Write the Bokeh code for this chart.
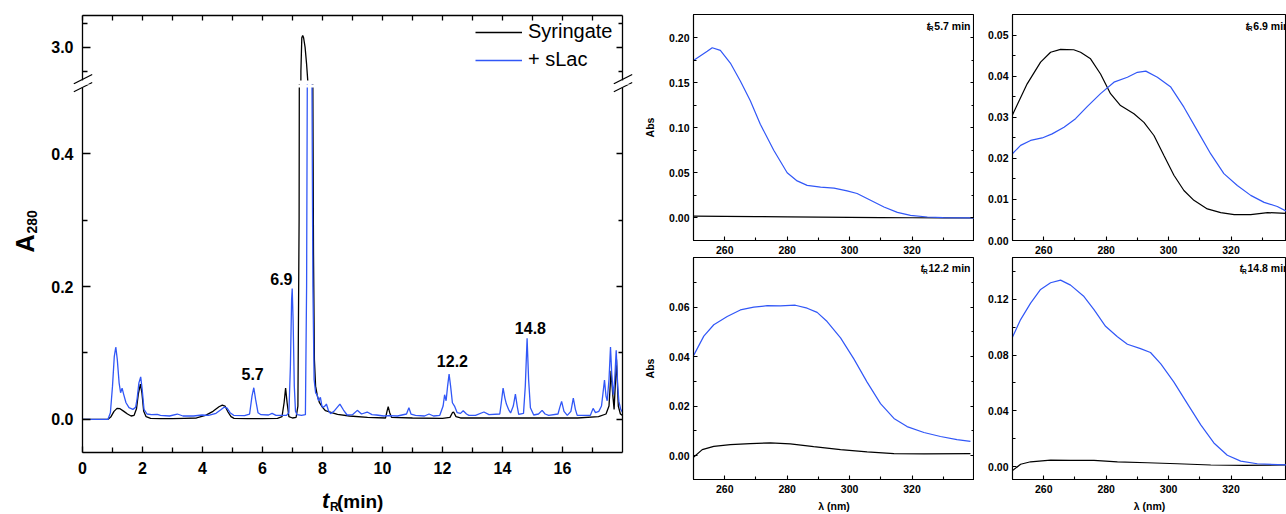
import math
from bokeh.plotting import figure
from bokeh.models import (LinearAxis, FixedTicker, Range1d, Label, Arrow, BoxAnnotation,
                          Legend, LegendItem, PrintfTickFormatter)
from bokeh.layouts import row, column
from bokeh.embed import file_html
from bokeh.resources import INLINE
from bokeh.core.properties import value

FONT = "Liberation Sans"
BLACK = "#000000"
BLUE = "#3157f7"

# ---------------- chromatogram: A280 against retention time ----------------
syr_t = [0.0, 0.85, 0.95, 1.05, 1.15, 1.25, 1.38, 1.5, 1.62, 1.72, 1.8, 1.86, 1.93,
         1.98, 2.04, 2.12, 2.27, 2.6, 3.0, 3.4, 3.8, 4.1, 4.35, 4.55, 4.66, 4.75,
         4.85, 4.95, 5.05, 5.5, 6.0, 6.5, 6.65, 6.72, 6.77, 6.82, 6.88, 7.0, 7.12,
         7.18, 7.22, 7.25, 7.28, 7.31, 7.34, 7.37, 7.42, 7.47, 7.51, 7.56, 7.62,
         7.67, 7.7, 7.73, 7.77, 7.83, 7.9, 8.0, 8.1, 8.25, 8.5, 8.9, 9.5, 10.1,
         10.15, 10.19, 10.24, 10.3, 11.0, 12.0, 12.25, 12.33, 12.37, 12.45, 12.6,
         13.5, 15.0, 16.5, 17.2, 17.45, 17.55, 17.62, 17.67, 17.72, 17.8, 17.86,
         17.93, 18.0]
syr_a = [0.0, 0.0, 0.004, 0.012, 0.0165, 0.016, 0.012, 0.008, 0.005, 0.006, 0.016,
         0.038, 0.053, 0.04, 0.012, 0.004, 0.0015, 0.001, 0.001, 0.0015, 0.002,
         0.006, 0.012, 0.019, 0.0215, 0.02, 0.011, 0.004, 0.0015, 0.001, 0.001,
         0.0015, 0.004, 0.025, 0.047, 0.025, 0.004, 0.002, 0.003, 0.02, 0.3, 1.2,
         2.9, 3.04, 3.05, 3.04, 3.0, 2.93, 2.86, 2.2, 1.2, 0.6, 0.25, 0.09, 0.05,
         0.035, 0.025, 0.018, 0.013, 0.011, 0.0075, 0.005, 0.003, 0.002, 0.012,
         0.019, 0.01, 0.003, 0.002, 0.0015, 0.003, 0.01, 0.011, 0.004, 0.002,
         0.002, 0.002, 0.002, 0.004, 0.008, 0.02, 0.073, 0.04, 0.015, 0.09, 0.02,
         0.008, 0.006]

slac_t = [0.0, 0.85, 0.93, 1.0, 1.06, 1.11, 1.16, 1.22, 1.27, 1.32, 1.37, 1.45, 1.55,
          1.68, 1.77, 1.82, 1.88, 1.94, 1.99, 2.05, 2.15, 2.3, 2.49, 2.6, 2.9, 3.16,
          3.35, 3.7, 3.99, 4.2, 4.45, 4.6, 4.73, 4.82, 4.92, 5.04, 5.4, 5.57, 5.65,
          5.71, 5.77, 5.85, 5.95, 6.2, 6.32, 6.45, 6.8, 6.88, 6.93, 6.97, 6.99, 7.02,
          7.06, 7.1, 7.15, 7.3, 7.43, 7.47, 7.5, 7.55, 7.6, 7.64, 7.68, 7.72, 7.77,
          7.82, 7.87, 7.93, 7.98, 8.02, 8.08, 8.13, 8.2, 8.27, 8.4, 8.58, 8.7, 8.82,
          9.0, 9.16, 9.3, 9.49, 9.65, 9.8, 10.04, 10.2, 10.5, 10.8, 10.88, 10.95,
          11.1, 11.4, 11.55, 11.7, 11.91, 12.02, 12.07, 12.12, 12.17, 12.22, 12.27,
          12.33, 12.4, 12.49, 12.6, 12.69, 12.8, 12.88, 13.1, 13.38, 13.55, 13.91,
          13.96, 14.02, 14.08, 14.13, 14.2, 14.27, 14.36, 14.43, 14.49, 14.54, 14.7,
          14.76, 14.82, 14.87, 14.93, 15.04, 15.2, 15.32, 15.42, 15.54, 15.85, 15.91,
          15.97, 16.05, 16.16, 16.28, 16.36, 16.43, 16.49, 16.93, 17.02, 17.1, 17.21,
          17.3, 17.4, 17.45, 17.49, 17.55, 17.6, 17.65, 17.69, 17.74, 17.79, 17.84,
          17.88, 17.94, 18.0]
slac_a = [0.0, 0.0, 0.01, 0.05, 0.095, 0.109, 0.09, 0.055, 0.04, 0.047, 0.038, 0.025,
          0.0175, 0.015, 0.018, 0.031, 0.055, 0.064, 0.045, 0.015, 0.008, 0.007,
          0.0075, 0.006, 0.005, 0.008, 0.005, 0.005, 0.0065, 0.006, 0.009, 0.014,
          0.0185, 0.017, 0.01, 0.006, 0.0055, 0.008, 0.035, 0.0476, 0.03, 0.01, 0.007,
          0.0065, 0.009, 0.006, 0.006, 0.01, 0.08, 0.18, 0.197, 0.15, 0.05, 0.012,
          0.007, 0.006, 0.007, 0.2, 0.6, 1.0, 1.0, 0.6, 0.2, 0.06, 0.04, 0.037, 0.028,
          0.033, 0.02, 0.018, 0.02, 0.023, 0.013, 0.0085, 0.013, 0.023, 0.014, 0.0065,
          0.007, 0.0135, 0.008, 0.011, 0.007, 0.0065, 0.005, 0.0055, 0.005, 0.008,
          0.0175, 0.008, 0.006, 0.005, 0.008, 0.005, 0.006, 0.02, 0.037, 0.028, 0.05,
          0.068, 0.05, 0.025, 0.02, 0.01, 0.009, 0.013, 0.008, 0.006, 0.006, 0.011,
          0.007, 0.008, 0.025, 0.047, 0.032, 0.023, 0.015, 0.0095, 0.02, 0.038, 0.02,
          0.0075, 0.009, 0.05, 0.122, 0.06, 0.0175, 0.0065, 0.008, 0.0135, 0.008,
          0.006, 0.008, 0.018, 0.027, 0.012, 0.006, 0.012, 0.032, 0.015, 0.006, 0.006,
          0.0165, 0.01, 0.012, 0.02, 0.059, 0.035, 0.028, 0.06, 0.109, 0.06, 0.037,
          0.06, 0.104, 0.05, 0.027, 0.015, 0.011]

peak_text = ["5.7", "6.9", "12.2", "14.8"]
peak_text_t = [5.67, 6.63, 12.33, 14.93]
peak_text_a = [0.068, 0.212, 0.088, 0.138]

t_ticks = [0, 2, 4, 6, 8, 10, 12, 14, 16]
t_minor = [1, 3, 5, 7, 9, 11, 13, 15, 17]
low_ticks = [0.0, 0.2, 0.4]
low_minor = [0.1, 0.3]
high_ticks = [3.0]
high_minor = [2.9, 3.1]

# ---------------- UV spectra of the labelled peaks ----------------
wl_ticks = [260, 280, 300, 320]
wl_minor = [270, 290, 310, 330]

a_wl_k = [250, 260, 270, 280, 290, 300, 310, 320, 330, 340]
a_abs_k = [0.0018, 0.0016, 0.0013, 0.0010, 0.0008, 0.0005, 0.0003, 0.0001, 0.0, -0.0002]
a_wl_b = [250.1, 254.4, 256.0, 258.6, 261.8, 265.0, 268.2, 271.4, 275.7, 280.0, 283.2,
          286.4, 290.7, 295.0, 299.2, 302.4, 306.7, 311.0, 315.3, 319.5, 324.9, 330.0, 340.0]
a_abs_b = [0.175, 0.185, 0.189, 0.186, 0.172, 0.152, 0.130, 0.104, 0.075, 0.050, 0.041,
           0.036, 0.034, 0.033, 0.030, 0.027, 0.0195, 0.012, 0.006, 0.0027, 0.0009,
           0.0003, 0.0]

b_wl_k = [249.9, 254.7, 259.0, 262.2, 265.4, 269.6, 271.8, 275.0, 278.2, 281.4, 284.6,
          288.9, 292.1, 295.3, 298.5, 301.7, 304.9, 308.1, 312.4, 316.7, 321.0, 326.3,
          331.7, 337.9]
b_abs_k = [0.0305, 0.0382, 0.0435, 0.0459, 0.0466, 0.0465, 0.0459, 0.0443, 0.0406,
           0.0358, 0.0329, 0.0309, 0.0288, 0.0256, 0.0207, 0.0159, 0.0122, 0.0098,
           0.0077, 0.0068, 0.0063, 0.0063, 0.0068, 0.0066]
b_wl_b = [249.9, 252.6, 255.8, 259.5, 262.7, 266.5, 270.2, 274.0, 278.2, 282.5, 286.8,
          290.0, 292.7, 296.4, 300.7, 304.9, 309.2, 313.5, 317.7, 322.0, 326.3, 330.6,
          334.8, 337.8]
b_abs_b = [0.0211, 0.0232, 0.0244, 0.0250, 0.0260, 0.0276, 0.0297, 0.0327, 0.0358,
           0.0386, 0.0398, 0.0410, 0.0413, 0.0398, 0.0374, 0.0325, 0.0268, 0.0211,
           0.0163, 0.0134, 0.0110, 0.0093, 0.0083, 0.0071]

c_wl_k = [250.1, 252.8, 256.5, 261.8, 268.2, 274.6, 281.0, 288.5, 297.1, 305.6, 314.2,
          323.8, 338.7]
c_abs_k = [-0.0006, 0.0024, 0.0037, 0.0044, 0.0048, 0.0051, 0.0047, 0.0036, 0.0024,
           0.0015, 0.0008, 0.0007, 0.0008]
c_wl_b = [250.1, 253.3, 256.5, 260.8, 265.0, 269.3, 273.6, 277.8, 282.6, 286.4, 289.6,
          292.8, 297.1, 301.4, 305.6, 309.9, 314.2, 318.4, 323.8, 329.1, 334.4, 338.7]
c_abs_b = [0.0406, 0.0483, 0.0529, 0.0562, 0.0589, 0.0600, 0.0606, 0.0605, 0.0608,
           0.0596, 0.0579, 0.0542, 0.0476, 0.0390, 0.0297, 0.0210, 0.0150, 0.0117,
           0.0093, 0.0077, 0.0064, 0.0057]

d_wl_k = [249.9, 252.6, 255.8, 262.2, 268.6, 276.1, 283.6, 293.2, 302.8, 313.5, 324.2,
          337.8]
d_abs_k = [-0.003, 0.0017, 0.0035, 0.0047, 0.0045, 0.0045, 0.0035, 0.0028, 0.0021,
           0.0012, 0.0009, 0.0012]
d_wl_b = [249.9, 252.6, 255.8, 259.0, 262.2, 265.4, 268.6, 272.9, 276.1, 279.8, 283.6,
          286.8, 291.0, 294.2, 297.5, 301.7, 306.0, 310.3, 314.5, 318.8, 323.1, 328.4,
          337.8]
d_abs_b = [0.0924, 0.1054, 0.1172, 0.1270, 0.1318, 0.1337, 0.1301, 0.1219, 0.1125,
           0.1006, 0.0931, 0.0877, 0.0846, 0.0818, 0.0736, 0.0606, 0.0452, 0.0299,
           0.0170, 0.0082, 0.0040, 0.0021, 0.0012]

spec_titles = ["5.7 min", "6.9 min", "12.2 min", "14.8 min"]

MID = 0.3465   # distance (em) from the alphabetic baseline up to the text box middle
# advance widths (em) of bold sans glyphs, used to set the t_R tag before its text
BOLD_EM = {"0": 0.556, "1": 0.556, "2": 0.556, "3": 0.556, "4": 0.556, "5": 0.556,
           "6": 0.556, "7": 0.556, "8": 0.556, "9": 0.556, ".": 0.278, " ": 0.278,
           "m": 0.889, "i": 0.278, "n": 0.611}


def style_axis(ax, major, minor, major_len, minor_len, fmt=None, size="16px",
               standoff=0, width=1.2):
    ax.ticker = FixedTicker(ticks=major, minor_ticks=minor)
    ax.major_tick_in = major_len
    ax.major_tick_out = 0
    ax.minor_tick_in = minor_len
    ax.minor_tick_out = 0
    for part in ("axis_line", "major_tick_line", "minor_tick_line"):
        setattr(ax, part + "_color", "black")
        setattr(ax, part + "_width", width)
    if fmt is None:
        # tick marks only
        ax.major_label_overrides = {tk: "" for tk in major}
        ax.major_label_text_font_size = "8px"
        ax.major_label_standoff = 0
    else:
        ax.formatter = PrintfTickFormatter(format=fmt)
        ax.major_label_text_font = FONT
        ax.major_label_text_font_size = size
        ax.major_label_text_font_style = "bold"
        ax.major_label_text_color = "black"
        ax.major_label_standoff = standoff
    return ax


def bare_figure(xr, yr, w, h, left, right, top, bottom):
    p = figure(x_range=xr, y_range=yr, width=w, height=h,
               min_border_left=left, min_border_right=right,
               min_border_top=top, min_border_bottom=bottom,
               x_axis_location=None, y_axis_location=None,
               output_backend="svg", toolbar_location=None)
    p.grid.visible = False
    p.background_fill_color = "white"
    p.border_fill_color = "white"
    return p


# ---------- broken-axis chromatogram ----------
# page geometry (px) of the two visible segments; each canvas is one full frame,
# and the axes sit at fixed positions inside it
LEFT_W = 640
T_LO, T_HI = 0.0, 18.0
T_PX0, T_PX1 = 82, 622                 # page x of 0 and 18 min
HI_LO, HI_HI = 2.8625, 3.1325          # upper segment values
HI_PX0, HI_PX1 = 80, 15                # page y of HI_LO and HI_HI
LO_LO, LO_HI = -0.05, 0.5              # lower segment values
LO_PX0, LO_PX1 = 452, 87
UP_H = 84                              # upper canvas: page y 0..84
LOW_TOP, LOW_H = 84, 430               # lower canvas: page y 84..514

t_pp = (T_HI - T_LO) / (T_PX1 - T_PX0)
hi_pp = (HI_HI - HI_LO) / (HI_PX0 - HI_PX1)
lo_pp = (LO_HI - LO_LO) / (LO_PX0 - LO_PX1)

t_range = Range1d(T_LO - T_PX0 * t_pp, T_HI + (LEFT_W - T_PX1) * t_pp)
hi_range = Range1d(HI_LO - (UP_H - HI_PX0) * hi_pp, HI_HI + HI_PX1 * hi_pp)
lo_range = Range1d(LO_LO - (LOW_TOP + LOW_H - LO_PX0) * lo_pp, LO_HI + (LO_PX1 - LOW_TOP) * lo_pp)


def tx(px):
    return T_LO + (px - T_PX0) * t_pp


def hy(py):
    return HI_HI - (py - HI_PX1) * hi_pp


def ly(py):
    return LO_HI - (py - LO_PX1) * lo_pp


up = bare_figure(t_range, hi_range, LEFT_W, UP_H, 0, 0, 0, 0)
up.outline_line_color = None
low = bare_figure(t_range, lo_range, LEFT_W, LOW_H, 0, 0, 0, 0)
low.outline_line_color = None

for p, lo_v, hi_v, ticks, minor in ((up, HI_LO, HI_HI, high_ticks, high_minor),
                                    (low, LO_LO, LO_HI, low_ticks, low_minor)):
    la = LinearAxis(fixed_location=T_LO, bounds=(lo_v, hi_v))
    p.add_layout(la, "left")
    style_axis(la, ticks, minor, 8, 5, fmt="%.1f", size="16px", standoff=9, width=1.3)
    ra = LinearAxis(fixed_location=T_HI, bounds=(lo_v, hi_v))
    p.add_layout(ra, "right")
    style_axis(ra, ticks, minor, 6, 4, width=1.3)

ta = LinearAxis(fixed_location=HI_HI, bounds=(T_LO, T_HI))
up.add_layout(ta, "above")
style_axis(ta, t_ticks, t_minor, 5, 5, width=1.3)
ba = LinearAxis(fixed_location=LO_LO, bounds=(T_LO, T_HI))
low.add_layout(ba, "below")
style_axis(ba, t_ticks, t_minor, 6, 5, fmt="%d", size="16px", standoff=9, width=1.3)

r_syr = up.line(syr_t, syr_a, line_color=BLACK, line_width=1.3)
r_slac = up.line(slac_t, slac_a, line_color=BLUE, line_width=1.3)
low.line(syr_t, syr_a, line_color=BLACK, line_width=1.3)
low.line(slac_t, slac_a, line_color=BLUE, line_width=1.3)

# white band that opens the gap between the two segments
up.add_layout(BoxAnnotation(left=T_LO, right=T_HI, bottom=hi_range.start, top=HI_LO,
                            fill_color="white", fill_alpha=1, line_color=None))
low.add_layout(BoxAnnotation(left=T_LO, right=T_HI, bottom=LO_HI, top=lo_range.end,
                             fill_color="white", fill_alpha=1, line_color=None))

# "//" marks across the axis break, drawn in both canvases so neither is cut short
for p, yconv in ((up, hy), (low, ly)):
    for cx in (T_PX0 + 0.5, T_PX1 + 0.5):
        for cy in (78.7, 86.7):
            p.add_layout(Arrow(end=None, line_color="black", line_width=1.1,
                               x_start=tx(cx - 9.2), y_start=yconv(cy + 4.65),
                               x_end=tx(cx + 9.2), y_end=yconv(cy - 4.65)))

legend = Legend(items=[LegendItem(label="Syringate", renderers=[r_syr]),
                       LegendItem(label="+ sLac", renderers=[r_slac])],
                location=(475, UP_H - 71), label_text_font=FONT, label_text_font_size="20px",
                label_text_color="black", glyph_width=47, glyph_height=22,
                label_height=22, label_standoff=6, spacing=5, padding=0, margin=0,
                border_line_color=None, background_fill_alpha=0)
up.add_layout(legend)

low.text(x=peak_text_t, y=peak_text_a, text=peak_text, text_font=value(FONT),
         text_font_size="16px", text_font_style="bold", text_color="black",
         text_align="center", text_baseline="middle")


def add_label(p, x, y, text, size, style="bold", angle=0.0):
    p.add_layout(Label(x=x, y=y, text=text, text_font=FONT, text_font_size=f"{size}px",
                       text_font_style=style, text_color="black", angle=angle,
                       text_align="left", text_baseline="middle"))


# x-axis title t_R(min), baselines at page y 508 (subscript 511)
add_label(low, tx(321.5), ly(508 - MID * 22), "t", 22, "bold italic")
add_label(low, tx(329.5), ly(511 - MID * 12), "R", 12)
add_label(low, tx(336.5), ly(508 - MID * 19), "(min)", 19)
# y-axis title A_280, read upwards, baselines at page x 33.5 (subscript 36.5)
add_label(low, tx(33.5 - MID * 25), ly(252), "A", 25, angle=math.pi / 2)
add_label(low, tx(36.5 - MID * 14), ly(233), "280", 14, angle=math.pi / 2)


# ---------- spectra panels ----------
TAG_SIZE = 10.5
TAG_END = 250 + (970 - 693) * 90 / 281     # wavelength where the tag text ends


def spectrum(xr, yr, w, h, left, top, bottom, fw, fh, yticks, yminor, wl_k, ab_k, wl_b, ab_b,
             title, ylabel, xlabel, right_axis):
    p = bare_figure(xr, yr, w, h, left, 0, top, bottom)
    p.outline_line_color = "black"
    p.outline_line_width = 1.1
    ya = LinearAxis()
    p.add_layout(ya, "left")
    style_axis(ya, yticks, yminor, 4, 3, fmt="%.2f", size="10.5px", standoff=4, width=1.1)
    xa = LinearAxis()
    p.add_layout(xa, "below")
    style_axis(xa, wl_ticks, wl_minor, 4, 3, fmt="%d", size="10.5px", standoff=5, width=1.1)
    if right_axis:
        ra = LinearAxis()
        p.add_layout(ra, "right")
        style_axis(ra, yticks, yminor, 4, 3, width=1.1)
    for ax, lab in ((ya, ylabel), (xa, xlabel)):
        if lab:
            ax.axis_label = lab
            ax.axis_label_text_font = FONT
            ax.axis_label_text_font_size = "10.5px"
            ax.axis_label_text_font_style = "bold"
            ax.axis_label_text_color = "black"
            ax.axis_label_standoff = 10 if ax is ya else 4
    p.line(wl_k, ab_k, line_color=BLACK, line_width=1.2)
    p.line(wl_b, ab_b, line_color=BLUE, line_width=1.2)
    # retention-time tag, right-aligned in the upper right corner
    xpp = (xr.end - xr.start) / fw
    ypp = (yr.end - yr.start) / fh
    yc = yr.end - 11 * ypp
    text_w = sum(BOLD_EM[ch] for ch in title) * TAG_SIZE
    x_r = TAG_END - (text_w + 0.8) * xpp
    x_t = x_r - 3.6 * xpp
    p.text(x=[TAG_END], y=[yc], text=[title], text_font=value(FONT),
           text_font_size=f"{TAG_SIZE}px", text_font_style="bold", text_color="black",
           text_align="right", text_baseline="middle")
    p.text(x=[x_r], y=[yc - 3 * ypp], text=["R"], text_font=value(FONT),
           text_font_size="6.5px", text_font_style="bold", text_color="black",
           text_align="right", text_baseline="middle")
    p.text(x=[x_t], y=[yc], text=["t"], text_font=value(FONT),
           text_font_size=f"{TAG_SIZE}px", text_font_style="bold italic", text_color="black",
           text_align="right", text_baseline="middle")
    return p


pa = spectrum(Range1d(250, 340), Range1d(-0.0252, 0.2259), 334, 257, 53, 14, 17, 281, 226,
              [0.0, 0.05, 0.10, 0.15, 0.20], [0.025, 0.075, 0.125, 0.175],
              a_wl_k, a_abs_k, a_wl_b, a_abs_b, spec_titles[0], "Abs", None, True)
pb = spectrum(Range1d(250, 250 + 274 * 90 / 281), Range1d(0.0, 0.0551), 312, 257, 38, 14, 17,
              274, 226, [0.0, 0.01, 0.02, 0.03, 0.04, 0.05], [0.005, 0.015, 0.025, 0.035, 0.045],
              b_wl_k, b_abs_k, b_wl_b, b_abs_b, spec_titles[1], None, None, False)
pc = spectrum(Range1d(250, 340), Range1d(-0.0097, 0.0801), 334, 257, 53, 0, 32, 281, 225,
              [0.0, 0.02, 0.04, 0.06], [0.01, 0.03, 0.05, 0.07],
              c_wl_k, c_abs_k, c_wl_b, c_abs_b, spec_titles[2], "Abs", "λ (nm)", True)
pd_ = spectrum(Range1d(250, 250 + 274 * 90 / 281), Range1d(-0.0092, 0.1499), 312, 257, 38, 0,
               32, 274, 225, [0.0, 0.04, 0.08, 0.12], [0.02, 0.06, 0.10, 0.14],
               d_wl_k, d_abs_k, d_wl_b, d_abs_b, spec_titles[3], None, "λ (nm)", False)

layout = row(column(up, low), column(pa, pc), column(pb, pd_))

with open("out.html", "w") as f:
    f.write(file_html(layout, INLINE))
